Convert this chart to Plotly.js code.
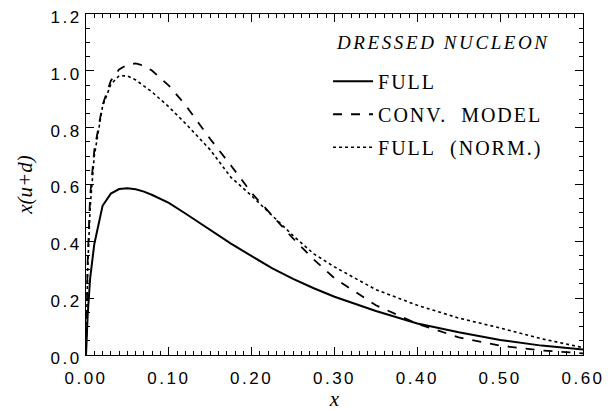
<!DOCTYPE html>
<html>
<head>
<meta charset="utf-8">
<script src="https://cdn.plot.ly/plotly-3.0.1.min.js"></script>
<style>
html,body{margin:0;padding:0;background:#fff}
#chart{width:612px;height:411px}
.xtick text,.ytick text{letter-spacing:2.5px}
.legendtext{letter-spacing:2px}
.annotation-text{letter-spacing:2.6px}
</style>
</head>
<body>
<div id="chart"></div>
<script>
const xVals = [0, 0.002, 0.005, 0.01, 0.02, 0.03, 0.04, 0.05, 0.06, 0.07, 0.08, 0.10, 0.12, 0.15, 0.175, 0.20, 0.225, 0.25, 0.275, 0.30, 0.35, 0.40, 0.45, 0.50, 0.55, 0.60];
const fullVals = [0, 0.14, 0.27, 0.39, 0.525, 0.568, 0.584, 0.587, 0.583, 0.575, 0.563, 0.535, 0.498, 0.44, 0.392, 0.348, 0.305, 0.268, 0.235, 0.205, 0.155, 0.111, 0.08, 0.053, 0.033, 0.019];
const convVals = [0, 0.33, 0.56, 0.72, 0.88, 0.965, 1.005, 1.022, 1.026, 1.018, 1.0, 0.948, 0.88, 0.76, 0.667, 0.57, 0.49, 0.41, 0.336, 0.27, 0.175, 0.11, 0.062, 0.033, 0.016, 0.006];
const normVals = [0, 0.3, 0.52, 0.70, 0.875, 0.952, 0.983, 0.982, 0.968, 0.948, 0.925, 0.873, 0.815, 0.722, 0.625, 0.56, 0.49, 0.42, 0.356, 0.31, 0.23, 0.175, 0.13, 0.095, 0.057, 0.026];
const seriesNames = ["FULL", "CONV.\u00a0\u00a0MODEL", "FULL\u00a0\u00a0(NORM.)"];
const legendTitle = "DRESSED NUCLEON";

const traces = [
  {x: xVals, y: fullVals, name: seriesNames[0], legendgroup: "a", mode: "lines", line: {color: "#000", width: 2, dash: "solid"}},
  {x: xVals, y: convVals, name: seriesNames[1], legendgroup: "b", mode: "lines", line: {color: "#000", width: 1.8, dash: "dash"}},
  {x: xVals, y: normVals, name: seriesNames[2], legendgroup: "c", mode: "lines", line: {color: "#000", width: 1.6, dash: "dot"}}
];

const axisCommon = {
  showline: true, linecolor: "#000", linewidth: 1, mirror: "ticks",
  ticks: "inside", ticklen: 8, tickwidth: 1, tickcolor: "#000",
  showgrid: false, zeroline: false,
  tickfont: {family: "Liberation Sans, Arial, sans-serif", size: 17, color: "#000"}
};

const layout = {
  width: 612, height: 411,
  margin: {l: 86, r: 29, t: 14, b: 56},
  paper_bgcolor: "#fff", plot_bgcolor: "#fff",
  showlegend: true,
  xaxis: Object.assign({}, axisCommon, {
    range: [0, 0.6], dtick: 0.1, tick0: 0, tickformat: ".2f",
    ticklabelstandoff: 8,
    minor: {dtick: 0.01, ticks: "inside", ticklen: 4, tickcolor: "#000"},
    title: {text: "x", font: {family: "Liberation Serif, serif", size: 21, style: "italic", color: "#000"}, standoff: 2}
  }),
  yaxis: Object.assign({}, axisCommon, {
    range: [0, 1.2], dtick: 0.2, tick0: 0, tickformat: ".1f",
    ticklabelshift: 3,
    minor: {dtick: 0.05, ticks: "inside", ticklen: 4, tickcolor: "#000"},
    title: {text: "x(u+d)", font: {family: "Liberation Serif, serif", size: 21, style: "italic", color: "#000"}, standoff: 12}
  }),
  annotations: [{
    text: legendTitle, xref: "paper", yref: "paper", x: 0.499, y: 0.915,
    xanchor: "left", yanchor: "middle", showarrow: false,
    font: {family: "Liberation Serif, serif", size: 19, style: "italic", color: "#000"}
  }],
  legend: {
    x: 0.487, y: 0.86, xanchor: "left", yanchor: "top",
    bgcolor: "rgba(0,0,0,0)", borderwidth: 0,
    font: {family: "Liberation Serif, serif", size: 20, color: "#000"},
    tracegroupgap: 4, itemwidth: 40
  }
};

Plotly.newPlot("chart", traces, layout, {displayModeBar: false, staticPlot: true});
</script>
</body>
</html>
